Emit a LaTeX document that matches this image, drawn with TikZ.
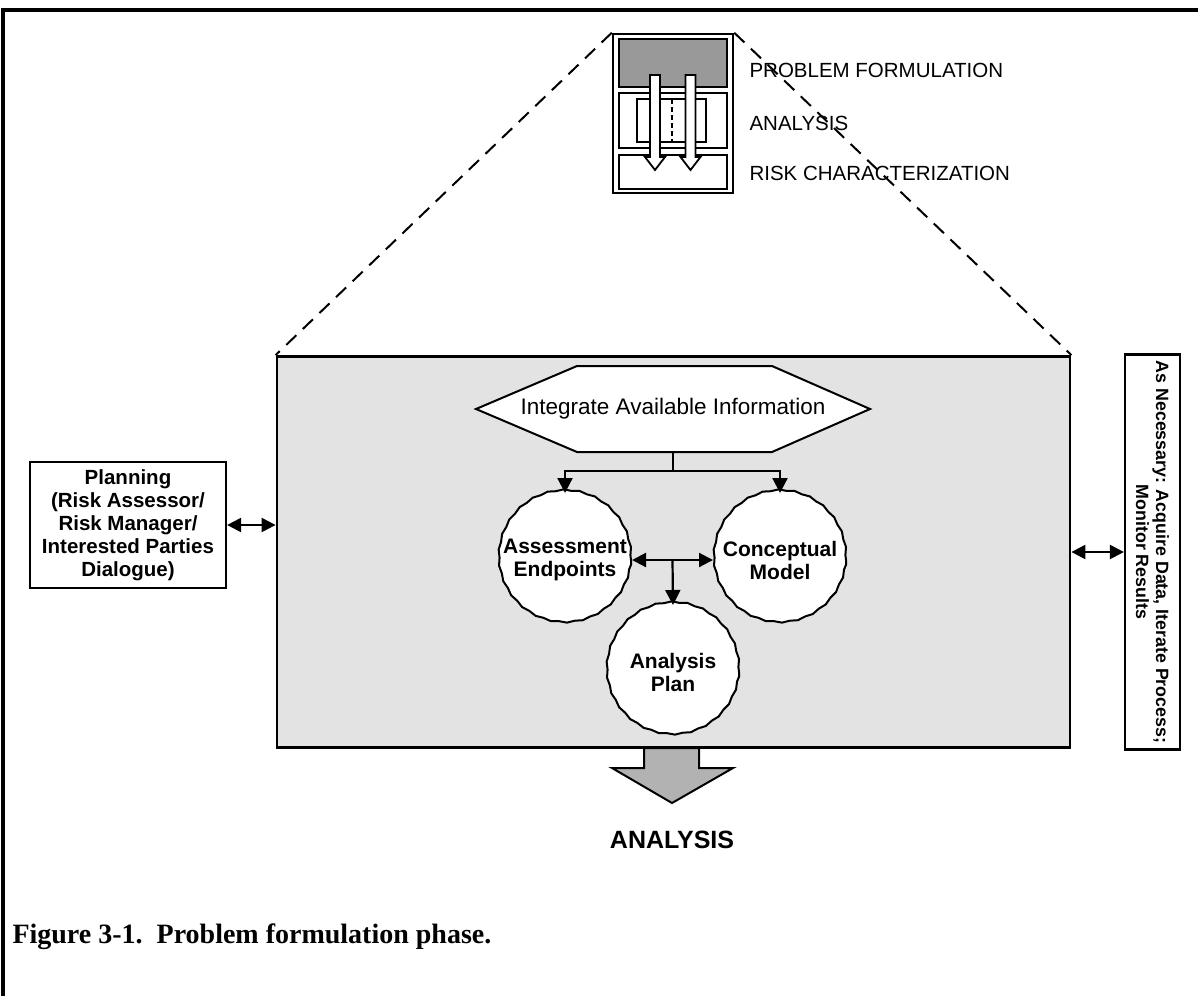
\documentclass[tikz,border=0pt]{standalone}
\usepackage{fontspec}
\setmainfont{Liberation Sans}
\newfontfamily\capfont{Liberation Serif}
\usepackage{tikz}
\usetikzlibrary{arrows.meta,decorations.pathmorphing,calc}
\tikzset{
    plain-box/.style = {draw, line width=2.2pt, fill=white, inner sep=2pt, align=center},
    step-circle/.style = {draw, line width=2pt, fill=white, circle, minimum size=132pt, inner sep=0pt, align=center, font=\fontsize{21}{23}\selectfont\bfseries, decorate, decoration={snake, amplitude=0.6pt, segment length=16pt}},
    link/.style = {line width=2.2pt, -{Triangle[length=15pt,width=15pt]}},
    two-way/.style = {line width=2.2pt, {Triangle[length=14pt,width=14pt]}-{Triangle[length=14pt,width=14pt]}},
    zoom-line/.style = {line width=2pt, dash pattern=on 14pt off 9pt},
    phase-label/.style = {anchor=west, font=\fontsize{20.5}{22}\selectfont},
}

\begin{document}
\begin{tikzpicture}[x=1pt, y=-1pt]
\useasboundingbox (0,0) rectangle (1198,996);
\draw[line width=4pt] (1198,10) -- (3,10) -- (3,996);

\node[draw, line width=2.5pt, minimum width=120pt, minimum height=159pt] (icon) at (673,113.5) {};
\draw[line width=2pt, fill=gray!80] (619,39) rectangle (727,87);
\draw[line width=2pt] (619,93) rectangle (727,148) (619,155) rectangle (727,189) (637,99) rectangle (706,142);
\draw[line width=1.5pt, dash pattern=on 5pt off 3pt] (672,99) -- (672,142);
\foreach \x in {655,690.5}
    \draw[line width=1.8pt, fill=white] (\x-5,75) -- (\x+5,75) -- (\x+5,157) -- (\x+10,157) -- (\x,170) -- (\x-10,157) -- (\x-5,157) -- cycle;
\node[phase-label] (pf-label) at (746,70) {PROBLEM FORMULATION};
\node[phase-label] (an-label) at (746,123) {ANALYSIS};
\node[phase-label] (rc-label) at (746,173) {RISK CHARACTERIZATION};

\node[draw, line width=2.8pt, fill=gray!22, minimum width=793pt, minimum height=391pt] (formulation) at (673.5,552) {};
\draw[zoom-line] (icon.north west) -- (formulation.north west);
\draw[zoom-line] (icon.north east) -- (formulation.north east);

\draw[line width=2pt, fill=white] (476,409) -- (577,366) -- (772,366) -- (870,409) -- (772,452) -- (577,452) -- cycle;
\node[minimum width=195pt, minimum height=86pt, font=\fontsize{22.5}{24}\selectfont] (integrate) at (673,409) {Integrate Available Information};

\node[step-circle] (endpoints) at (565,560) {Assessment\\Endpoints};
\node[step-circle] (model) at (780,560) {Conceptual\\Model};
\node[step-circle] (plan) at (673,672) {Analysis\\Plan};

\draw[link] (integrate.south) -- ++(0,19) -| (endpoints.north);
\draw[link] (integrate.south) -- ++(0,19) -| (model.north);
\draw[two-way] (endpoints.east) -- (model.west);
\draw[link] ($(endpoints.east)!0.5!(model.west)$) -- (plan.north);

\node[plain-box, minimum width=196pt, minimum height=126pt, font=\fontsize{20.5}{23}\selectfont\bfseries] (planning) at (128,525) {Planning\\(Risk Assessor/\\Risk Manager/\\Interested Parties\\Dialogue)};
\draw[two-way] (planning.east) -- (planning.east -| formulation.west);

\node[plain-box, rotate=-90, minimum width=395pt, minimum height=55pt, font=\fontsize{17.8}{20}\selectfont\bfseries] (monitor) at (1152.5,552) {As Necessary: Acquire Data, Iterate Process;\\Monitor Results};
\draw[two-way] (formulation.east) -- (monitor.south);

\draw[line width=2pt, fill=gray!60] (644,748) -- (699,748) -- (699,768) -- (733,768) -- (672,803) -- (612,768) -- (644,768) -- cycle;
\node[font=\fontsize{25}{28}\selectfont\bfseries] (next-phase) at (672,840) {ANALYSIS};

\node[anchor=west, font=\capfont\fontsize{28}{32}\selectfont\bfseries] (caption) at (9,937) {Figure 3-1.\ \ Problem formulation phase.};
\end{tikzpicture}
\end{document}
